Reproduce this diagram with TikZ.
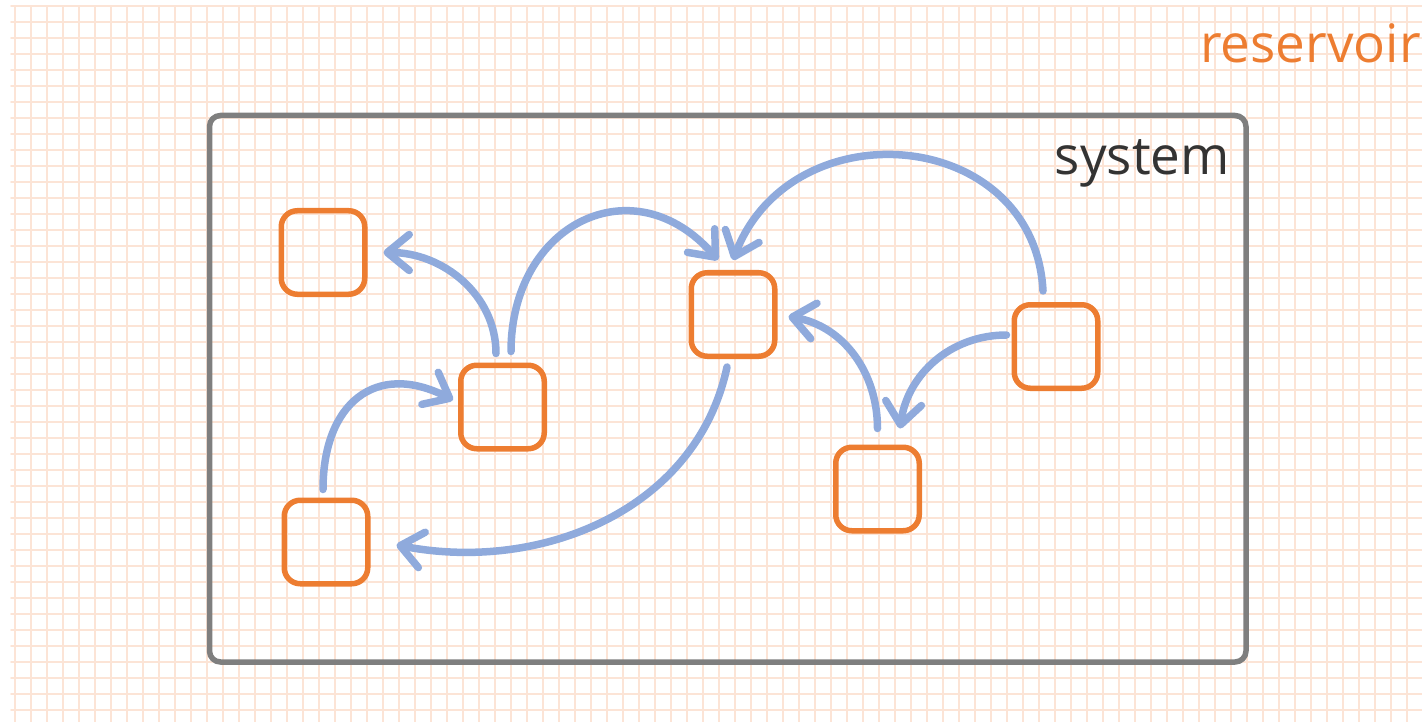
\documentclass[tikz,border=0pt]{standalone}
\usepackage{fontspec}
\setmainfont{Open Sans}
\usetikzlibrary{arrows.meta}

\definecolor{boxorange}{HTML}{ED7D31}
\definecolor{flowblue}{HTML}{8FAADC}
\definecolor{gridpeach}{HTML}{FCE4D6}
\definecolor{sysgray}{HTML}{7F7F7F}
\definecolor{textgray}{HTML}{333333}

\begin{document}
\begin{tikzpicture}[x=1pt, y=1pt, line cap=round, line join=round]

%---- STYLES ----
\tikzset{
    gridline/.style={gridpeach, line width=1.7pt},
    sysbox/.style={sysgray, line width=5.5pt, rounded corners=11pt},
    cell/.style={draw=boxorange, line width=5.5pt, rounded corners=16pt,
                 minimum size=83.5pt, inner sep=0pt},
    flow/.style={flowblue, line width=7.5pt,
                 -{Straight Barb[length=22pt, width=36pt, line cap=round, line join=round]}},
    label/.style={font=\fontsize{53}{64}\selectfont, inner sep=0pt},
}

% PAGE
\useasboundingbox (0,0) rectangle (1422,-722);

%---- RESERVOIR GRID ----
\begin{scope}[shift={(15,-6)}]
    \draw[gridline] (-4,0) grid[step=16] (1407,-716);
\end{scope}

\node[label, text=boxorange, anchor=base east] (res) at (1421,-63) {reservoir};

%---- SYSTEM ----
\draw[sysbox] (209.5,-115.5) rectangle (1246,-662);
\node[label, text=textgray, anchor=base east] (sys) at (1230,-175) {system};

%---- CELLS ----
\node[cell] (b1) at (323,-252.5) {};
\node[cell] (b2) at (502.5,-407) {};
\node[cell] (b3) at (326,-542) {};
\node[cell] (b4) at (733,-314.5) {};
\node[cell] (b5) at (877.5,-489) {};
\node[cell] (b6) at (1056,-346.5) {};

%---- FLOWS ----
\draw[flow] ([xshift=-6.5pt,yshift=9pt]b2.north)
    to[out=90, in=0] ([xshift=16pt]b1.east);
\draw[flow] ([xshift=8.5pt,yshift=11pt]b2.north)
    to[out=90, in=131, looseness=1.45] ([xshift=-15pt,yshift=10pt]b4.north);
\draw[flow] ([xshift=-13pt,yshift=11pt]b6.north)
    to[out=93, in=69, looseness=1.35] ([yshift=10pt]b4.north);
\draw[flow] ([xshift=-6pt,yshift=-8pt]b4.south)
    to[out=258, in=-11] ([xshift=26pt,yshift=-3pt]b3.east);
\draw[flow] ([xshift=-3pt,yshift=8pt]b3.north)
    to[out=90, in=153, looseness=1.4] ([xshift=-5pt,yshift=7pt]b2.west);
\draw[flow] ([yshift=16pt]b5.north)
    to[out=90, in=-10] ([xshift=11pt,yshift=-2pt]b4.east);
\draw[flow] ([xshift=-5pt,yshift=11.5pt]b6.west)
    to[out=180, in=82] ([xshift=22.5pt,yshift=16pt]b5.north);

\end{tikzpicture}
\end{document}
